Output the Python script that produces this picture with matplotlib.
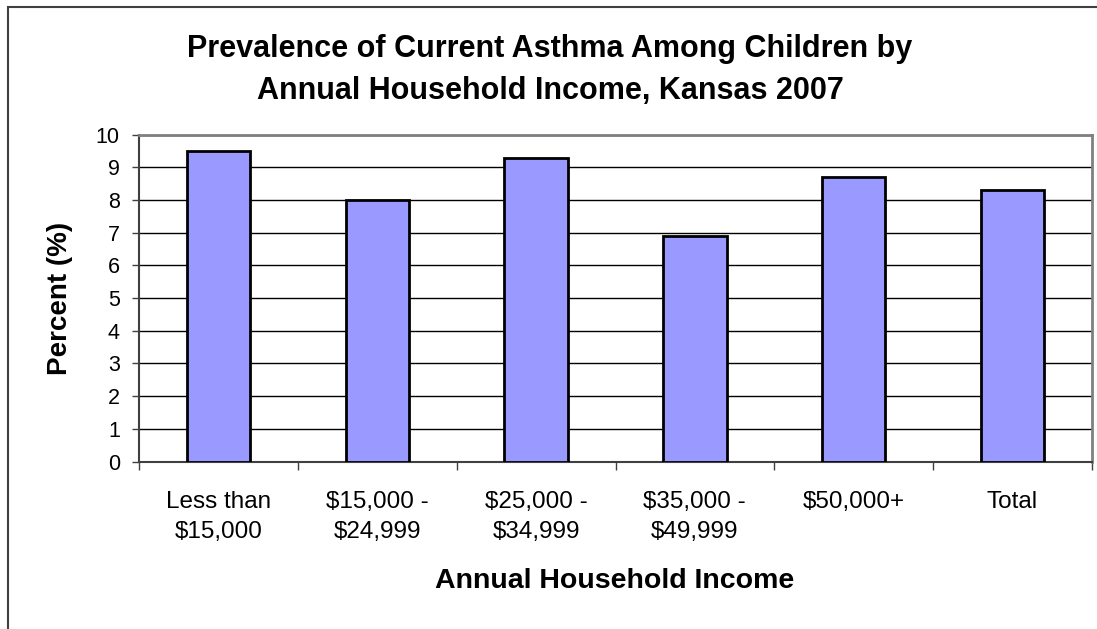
import matplotlib
matplotlib.use("Agg")
import matplotlib.pyplot as plt
from matplotlib.patches import Rectangle

categories = ["Less than\n$15,000", "$15,000 -\n$24,999", "$25,000 -\n$34,999",
              "$35,000 -\n$49,999", "$50,000+", "Total"]
values = [9.5, 8.0, 9.3, 6.9, 8.7, 8.3]
yticks = list(range(0, 11))

plt.rcParams['font.family'] = ['Liberation Sans', 'DejaVu Sans']

W, H = 1097, 629
fig = plt.figure(figsize=(W/100, H/100), dpi=100)
L, R, T, B = 139.3, 1091.7, 134.7, 461.5
ax = fig.add_axes([L/W, 1-B/H, (R-L)/W, (B-T)/H])

x = [i + 0.5 for i in range(len(categories))]
ax.bar(x, values, width=0.4, color='#9999ff', edgecolor='black', linewidth=2, zorder=3)

ax.set_xlim(0, 6)
ax.set_ylim(0, 10)
ax.set_yticks(yticks)
ax.set_yticklabels([str(t) for t in yticks], fontsize=15.5)
ax.yaxis.grid(True, color='black', linewidth=1, zorder=0)
ax.set_axisbelow(True)

ax.set_xticks(range(0, 7))
ax.set_xticklabels([])
ax.set_xticks(x, minor=True)
ax.set_xticklabels(categories, minor=True, fontsize=17.5, linespacing=1.5)
ax.tick_params(axis='x', which='minor', length=0, pad=21)
ax.tick_params(axis='x', which='major', length=6, width=1, color='#404040', direction='out')
ax.tick_params(axis='y', length=5, width=1, color='#404040', direction='out', pad=9)

for s in ['top', 'right']:
    ax.spines[s].set_color('#808080')
    ax.spines[s].set_linewidth(2)
for s in ['left', 'bottom']:
    ax.spines[s].set_color('#404040')
    ax.spines[s].set_linewidth(1.5)

fig.text(60/W, 1-298/H, "Percent (%)", rotation=90, ha='center', va='center',
         fontsize=20, fontweight='bold')
fig.text(615/W, 1-588/H, "Annual Household Income", ha='center', va='baseline',
         fontsize=20.5, fontweight='bold')

fig.text(550/W, 1-57/H, "Prevalence of Current Asthma Among Children by",
         ha='center', va='baseline', fontsize=22, fontweight='bold')
fig.text(550/W, 1-98.5/H, "Annual Household Income, Kansas 2007",
         ha='center', va='baseline', fontsize=22, fontweight='bold')

fig.patches.append(Rectangle((8/W, -0.01), 1.1, 1-7/H+0.01, transform=fig.transFigure,
                             fill=False, edgecolor='#404040', linewidth=1.5))

fig.savefig("out.png", dpi=100)
